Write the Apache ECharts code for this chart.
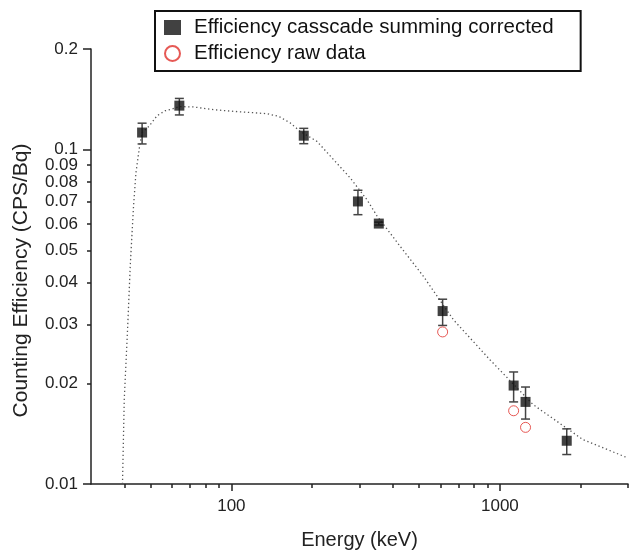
<!DOCTYPE html>
<html>
<head>
<meta charset="utf-8">
<script src="https://cdn.jsdelivr.net/npm/echarts@6/dist/echarts.min.js"></script>
<style>
  html, body { margin: 0; padding: 0; background: #fff; }
  #main { width: 629px; height: 551px; }
</style>
</head>
<body>
<div id="main"></div>
<script>
// measured points (keV, CPS/Bq)
var energies = [46.5, 64, 186, 296, 354, 612, 1125, 1246, 1774]
var effCorrected = [0.1125, 0.1354, 0.1101, 0.0700, 0.0601, 0.0329, 0.0197, 0.0176, 0.01347]
var errLow = [0.1040, 0.1270, 0.1042, 0.0639, 0.0595, 0.0298, 0.0176, 0.01564, 0.01225]
var errHigh = [0.1200, 0.1423, 0.1158, 0.0756, 0.0607, 0.0357, 0.02163, 0.0195, 0.01462]

var rawEnergies = [612, 1125, 1246]
var effRaw = [0.0285, 0.01656, 0.01477]

// fitted efficiency curve (dotted)
var fitEnergies = [39.3, 39.9, 41.0, 42.0, 43.2, 44.1, 45.5, 46.5, 49.3, 52.9, 56.8, 60.2, 63.9, 72.4, 85.7, 101.7,
  135.7, 149.9, 165.7, 180.5, 208.2, 240.1, 277, 319.6, 348, 425, 519, 671, 918, 1330, 2040, 3000]
var fitEff = [0.0100, 0.0179, 0.0284, 0.0448, 0.0677, 0.0852, 0.1023, 0.1125, 0.1174, 0.1264, 0.1308, 0.1323, 0.1345, 0.1342, 0.1317, 0.1302,
  0.1281, 0.1258, 0.1202, 0.1134, 0.1059, 0.0934, 0.0823, 0.0709, 0.0635, 0.0514, 0.0418, 0.0310, 0.02353, 0.01727, 0.01357, 0.01196]

// axis ticks
var xLabels = [100, 1000]
var xMinorTicks = [40, 50, 60, 70, 80, 90, 200, 300, 400, 500, 600, 700, 800, 900, 2000, 3000]
var yLabels = [0.01, 0.02, 0.03, 0.04, 0.05, 0.06, 0.07, 0.08, 0.09, 0.1, 0.2]
var yMajorTicks = [0.01, 0.1, 0.2]
var yMinorTicks = [0.02, 0.03, 0.04, 0.05, 0.06, 0.07, 0.08, 0.09]

var nameCorrected = 'Efficiency casscade summing corrected'
var nameRaw = 'Efficiency raw data'

var fontName = 'Liberation Sans, Arial, sans-serif'
var axisColor = '#222'

var corrData = energies.map(function (e, i) { return [e, effCorrected[i]] })
var errData = energies.map(function (e, i) { return [e, errLow[i], errHigh[i]] })
var rawData = rawEnergies.map(function (e, i) { return [e, effRaw[i]] })
var fitData = fitEnergies.map(function (e, i) { return [e, fitEff[i]] })

var chart = echarts.init(document.getElementById('main'))

var option = {
  animation: false,
  textStyle: { fontFamily: fontName },
  grid: { left: 91, right: 1, top: 49, bottom: 67, outerBoundsMode: 'none' },
  legend: {
    orient: 'vertical',
    left: 155,
    top: 11,
    data: [{ name: nameCorrected, icon: 'rect' }, { name: nameRaw, icon: 'circle' }],
    itemWidth: 17,
    itemHeight: 15,
    itemGap: 5,
    padding: [6, 27, 7, 9],
    borderColor: '#111',
    borderWidth: 2,
    borderRadius: 0,
    textStyle: { fontSize: 20.5, color: '#111', fontFamily: fontName, padding: [0, 0, 0, 8] }
  },
  xAxis: [
    {
      type: 'log',
      logBase: 10,
      min: 30,
      max: 3000,
      name: 'Energy (keV)',
      nameLocation: 'middle',
      nameGap: 46,
      nameTextStyle: { fontSize: 20, color: axisColor },
      axisLine: { lineStyle: { color: axisColor, width: 1.5 } },
      axisTick: { customValues: xLabels, length: 7, lineStyle: { color: axisColor, width: 1.5 } },
      axisLabel: {
        customValues: xLabels,
        fontSize: 17,
        color: axisColor,
        margin: 14,
        formatter: function (v) { return String(Math.round(v)) }
      },
      splitLine: { show: false }
    },
    {
      // short ticks
      type: 'log',
      logBase: 10,
      min: 30,
      max: 3000,
      position: 'bottom',
      axisLine: { show: false },
      axisTick: { customValues: xMinorTicks, length: 4, lineStyle: { color: axisColor, width: 1.5 } },
      axisLabel: { show: false },
      splitLine: { show: false }
    }
  ],
  yAxis: [
    {
      type: 'log',
      logBase: 10,
      min: 0.01,
      max: 0.2,
      name: 'Counting Efficiency (CPS/Bq)',
      nameLocation: 'middle',
      nameGap: 59,
      nameTextStyle: { fontSize: 21, color: axisColor, padding: [0, 28, 0, 0] },
      axisLine: { lineStyle: { color: axisColor, width: 1.5 } },
      axisTick: { customValues: yMajorTicks, length: 8, lineStyle: { color: axisColor, width: 1.5 } },
      axisLabel: {
        customValues: yLabels,
        fontSize: 17,
        color: axisColor,
        margin: 13,
        formatter: function (v) { return String(+(+v).toFixed(2)) }
      },
      splitLine: { show: false }
    },
    {
      // short ticks
      type: 'log',
      logBase: 10,
      min: 0.01,
      max: 0.2,
      position: 'left',
      axisLine: { show: false },
      axisTick: { customValues: yMinorTicks, length: 4, lineStyle: { color: axisColor, width: 1.5 } },
      axisLabel: { show: false },
      splitLine: { show: false }
    }
  ],
  series: [
    {
      name: 'fit',
      type: 'line',
      data: fitData,
      symbol: 'none',
      smooth: false,
      silent: true,
      z: 1,
      lineStyle: { color: '#555', width: 1.3, type: [1.3, 2.7] }
    },
    {
      name: 'error',
      type: 'custom',
      data: errData,
      encode: { x: 0, y: [1, 2] },
      z: 2,
      silent: true,
      renderItem: function (params, api) {
        var x = api.value(0)
        var pLo = api.coord([x, api.value(1)])
        var pHi = api.coord([x, api.value(2)])
        var cap = 4.5
        var style = { stroke: '#444', lineWidth: 1.5 }
        return {
          type: 'group',
          children: [
            { type: 'line', shape: { x1: pLo[0], y1: pLo[1], x2: pHi[0], y2: pHi[1] }, style: style },
            { type: 'line', shape: { x1: pLo[0] - cap, y1: pLo[1], x2: pLo[0] + cap, y2: pLo[1] }, style: style },
            { type: 'line', shape: { x1: pHi[0] - cap, y1: pHi[1], x2: pHi[0] + cap, y2: pHi[1] }, style: style }
          ]
        }
      }
    },
    {
      name: nameCorrected,
      type: 'scatter',
      data: corrData,
      symbol: 'rect',
      symbolSize: 10,
      z: 3,
      itemStyle: { color: '#111' }
    },
    {
      name: nameRaw,
      type: 'scatter',
      data: rawData,
      symbol: 'circle',
      symbolSize: 10,
      z: 3,
      itemStyle: { color: 'rgba(255,255,255,0)', borderColor: '#e0302a', borderWidth: 1 }
    }
  ]
}

chart.setOption(option)
</script>
</body>
</html>
